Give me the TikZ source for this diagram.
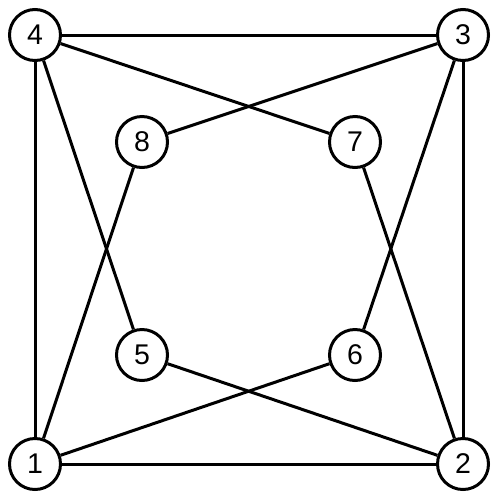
\documentclass[tikz,border=0pt]{standalone}
\usepackage{fontspec}
\setmainfont{Liberation Sans}
\begin{document}
\begin{tikzpicture}[x=1pt,y=-1pt,
  vert/.style={circle,draw,line width=3pt,minimum size=51pt,inner sep=0pt,fill=white,font=\fontsize{28.5}{28.5}\selectfont},
  edge/.style={line width=3pt}]
\useasboundingbox (0,0) rectangle (500,499);
\node[vert] (n4) at (35,35) {4};
\node[vert] (n3) at (463,35) {3};
\node[vert] (n1) at (35,464) {1};
\node[vert] (n2) at (463,464) {2};
\node[vert] (n8) at (142,142) {8};
\node[vert] (n7) at (355,142) {7};
\node[vert] (n5) at (142,355) {5};
\node[vert] (n6) at (355,355) {6};
\draw[edge] (n4) -- (n3);
\draw[edge] (n4) -- (n1);
\draw[edge] (n1) -- (n2);
\draw[edge] (n3) -- (n2);
\draw[edge] (n4) -- (n7);
\draw[edge] (n4) -- (n5);
\draw[edge] (n3) -- (n8);
\draw[edge] (n3) -- (n6);
\draw[edge] (n1) -- (n8);
\draw[edge] (n1) -- (n6);
\draw[edge] (n2) -- (n5);
\draw[edge] (n2) -- (n7);
\end{tikzpicture}
\end{document}
